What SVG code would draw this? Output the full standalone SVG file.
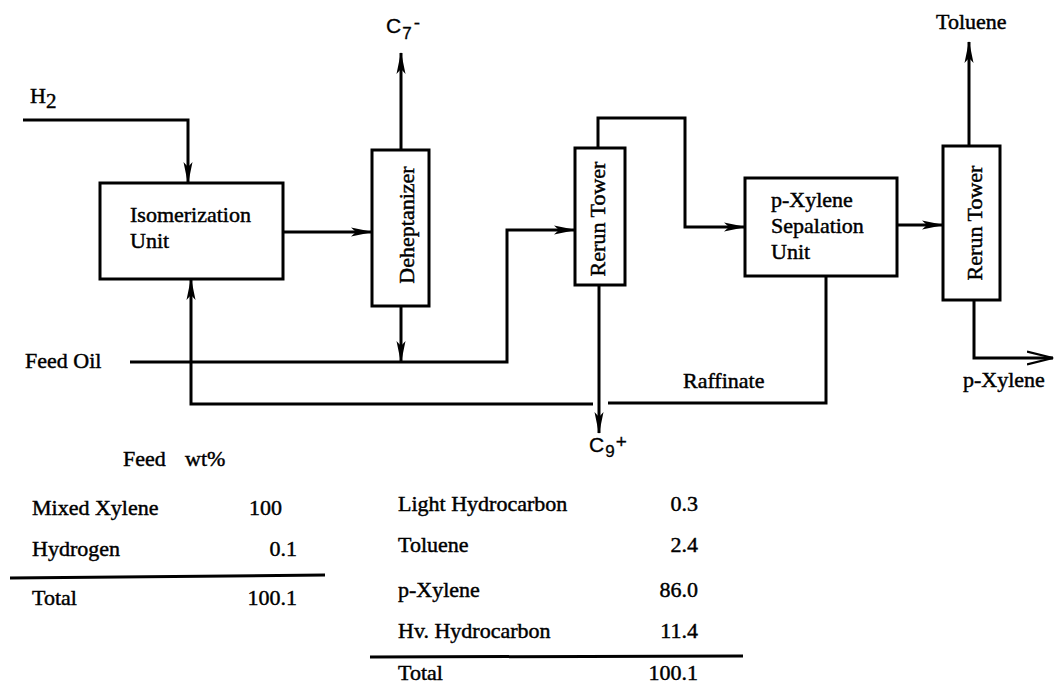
<svg xmlns="http://www.w3.org/2000/svg" width="1056" height="685" viewBox="0 0 1056 685">
<defs>
<marker id="ah" markerUnits="userSpaceOnUse" markerWidth="22" markerHeight="10" viewBox="0 0 22 10" refX="21" refY="5" orient="auto">
<path d="M0,0.5 L22,5 L0,9.5 L5,5 z" fill="#000"/>
</marker>
<marker id="oh" markerUnits="userSpaceOnUse" markerWidth="28" markerHeight="16" viewBox="0 0 28 16" refX="26" refY="8" orient="auto">
<path d="M0,1.5 L26,8 L0,14.5" fill="none" stroke="#000" stroke-width="2.2"/>
</marker>
</defs>
<style>
text{font-family:"Liberation Serif","Times New Roman",serif;font-size:22px;fill:#000;stroke:#000;stroke-width:0.45}
.sans{font-family:"Liberation Sans",Arial,sans-serif;font-size:21px;stroke-width:0.3}
.box{fill:#fff;stroke:#000;stroke-width:3}
.ln{fill:none;stroke:#000;stroke-width:3}
.arr{fill:none;stroke:#000;stroke-width:3;marker-end:url(#ah)}
</style>
<rect width="1056" height="685" fill="#fff"/>
<g id="connectors">
<path class="arr" d="M23,120 H188 V183"/>
<path class="arr" d="M283,232 H372"/>
<path class="arr" d="M401,150 V53"/>
<path class="arr" d="M401,306 V362"/>
<path class="arr" d="M130,362 H507 V230 H575"/>
<path class="arr" d="M598,148 V118 H685 V227 H745"/>
<path class="arr" d="M897,225 H943"/>
<path class="arr" d="M969,146 V42"/>
<path class="ln" d="M974,300 V358 H1053" style="marker-end:url(#oh)"/>
<path class="ln" d="M826,276 V403 H608"/>
<path class="arr" d="M593,404 H191 V279"/>
<path class="arr" d="M599,285 V433"/>
</g>
<g id="isomerization">
<rect class="box" x="100" y="183" width="183" height="96"/>
<text x="130" y="222">Isomerization</text>
<text x="130" y="248">Unit</text>
</g>
<g id="deheptanizer">
<rect class="box" x="372" y="150" width="57" height="156"/>
<text transform="translate(414,225) rotate(-90)" text-anchor="middle">Deheptanizer</text>
</g>
<g id="rerun1">
<rect class="box" x="575" y="148" width="50" height="137"/>
<text transform="translate(605,219) rotate(-90)" text-anchor="middle">Rerun Tower</text>
</g>
<g id="pxylene-unit">
<rect class="box" x="745" y="178" width="152" height="98"/>
<text x="771" y="207">p-Xylene</text>
<text x="771" y="233">Sepalation</text>
<text x="771" y="259">Unit</text>
</g>
<g id="rerun2">
<rect class="box" x="943" y="146" width="57" height="154"/>
<text transform="translate(982,223) rotate(-90)" text-anchor="middle">Rerun Tower</text>
</g>
<g id="labels">
<text x="30" y="103">H<tspan font-size="21" dy="5">2</tspan></text>
<text class="sans" x="386" y="33">C<tspan font-size="17" dy="6" dx="1">7</tspan><tspan font-size="19" dy="-10" dx="2">-</tspan></text>
<text x="936" y="29">Toluene</text>
<text x="25" y="368">Feed Oil</text>
<text x="683" y="388">Raffinate</text>
<text x="963" y="387">p-Xylene</text>
<text class="sans" x="589" y="452">C<tspan font-size="17" dy="5" dx="1">9</tspan><tspan font-size="19" dy="-9" dx="1">+</tspan></text>
</g>
<g id="feed-table">
<text x="123" y="466">Feed</text>
<text x="185" y="466">wt%</text>
<text x="32" y="515">Mixed Xylene</text>
<text x="249" y="515">100</text>
<text x="32" y="556">Hydrogen</text>
<text x="297" y="556" text-anchor="end">0.1</text>
<path class="ln" d="M10,578 L325,575" stroke-width="2.5"/>
<text x="32" y="605">Total</text>
<text x="297" y="605" text-anchor="end">100.1</text>
</g>
<g id="product-table">
<text x="398" y="511">Light Hydrocarbon</text>
<text x="698" y="511" text-anchor="end">0.3</text>
<text x="398" y="552">Toluene</text>
<text x="698" y="552" text-anchor="end">2.4</text>
<text x="398" y="597">p-Xylene</text>
<text x="698" y="597" text-anchor="end">86.0</text>
<text x="398" y="638">Hv. Hydrocarbon</text>
<text x="698" y="638" text-anchor="end">11.4</text>
<path class="ln" d="M370,657 L743,656" stroke-width="2.5"/>
<text x="398" y="680">Total</text>
<text x="698" y="680" text-anchor="end">100.1</text>
</g>
</svg>
